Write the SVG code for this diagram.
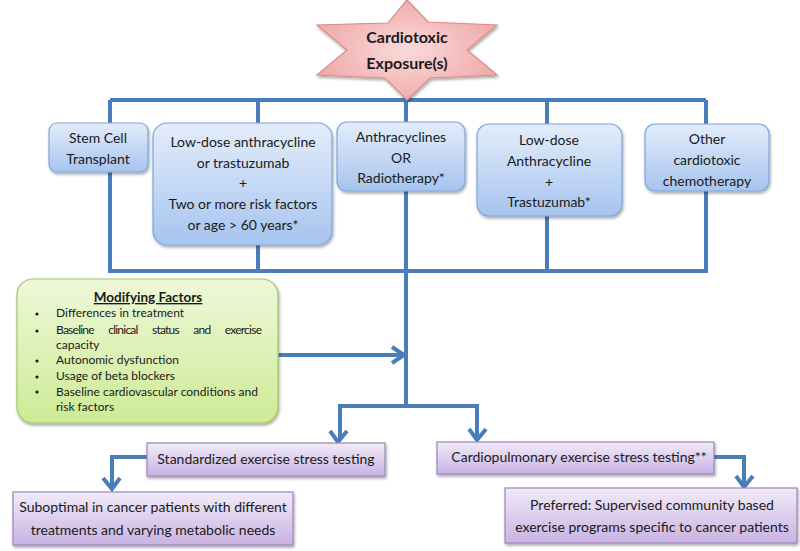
<svg xmlns="http://www.w3.org/2000/svg" width="800" height="551" viewBox="0 0 800 551">
<defs>
<linearGradient id="gBlue" x1="0" y1="0" x2="0" y2="1">
<stop offset="0" stop-color="#e3edfa"/>
<stop offset="1" stop-color="#a6c4ef"/>
</linearGradient>
<linearGradient id="gGreen" x1="0" y1="0" x2="0" y2="1">
<stop offset="0" stop-color="#eef8d8"/>
<stop offset="1" stop-color="#cdeb95"/>
</linearGradient>
<linearGradient id="gPurple" x1="0" y1="0" x2="0" y2="1">
<stop offset="0" stop-color="#f1ebf8"/>
<stop offset="1" stop-color="#c9b3e3"/>
</linearGradient>
<radialGradient id="gPink" cx="0.5" cy="0.5" r="0.6">
<stop offset="0" stop-color="#fbdada"/>
<stop offset="1" stop-color="#eea4a4"/>
</radialGradient>
<filter id="sh" x="-10%" y="-10%" width="125%" height="130%">
<feGaussianBlur in="SourceAlpha" stdDeviation="1.5"/>
<feOffset dx="1" dy="2" result="b"/>
<feComponentTransfer><feFuncA type="linear" slope="0.35"/></feComponentTransfer>
<feMerge><feMergeNode/><feMergeNode in="SourceGraphic"/></feMerge>
</filter>
</defs>
<style>
.ln{fill:none;stroke:#4a7ebb;stroke-width:4;stroke-linejoin:miter}
.ar{fill:none;stroke:#4a7ebb;stroke-width:4;stroke-linecap:butt;stroke-linejoin:miter}
.bb{fill:url(#gBlue);stroke:#7ea6dc;stroke-width:1.2;filter:url(#sh)}
.pb{fill:url(#gPurple);stroke:#9d83c0;stroke-width:1.2;filter:url(#sh)}
.gb{fill:url(#gGreen);stroke:#a6c46a;stroke-width:1.2;filter:url(#sh)}
text{font-family:Lato,"Liberation Sans",sans-serif;fill:#1a1a1a}
.t{font-size:14px;text-anchor:middle}
.s{font-size:12px}
.h{font-size:16px;font-weight:bold;text-anchor:middle}
</style>

<g id="connectors">
<path class="ln" d="M110,100 H706 M110,100 V271 H706 V100 M258,100 V123 M258,245 V271 M406,100 V122 M406,191 V406 M547,100 V124 M547,216 V271"/>
<path class="ln" d="M340,440 V406 H477 V438"/>
<path class="ar" d="M330,431 L338,442 L347,431 M469,429 L477,440 L486,429"/>
<path class="ln" d="M278,355 H404"/>
<path class="ar" d="M392,347 L404,355 L392,363"/>
<path class="ln" d="M147,457 H112 V487"/>
<path class="ar" d="M103,478 L112,489 L120,478"/>
<path class="ln" d="M714,457 H744 V485"/>
<path class="ar" d="M736,476 L744,487 L753,476"/>
</g>

<g id="star">
<polygon points="407,0 388,23 317,25 347,50 317,75 385,78 407,100 430,78 497,75 467,50 497,25 428,22" fill="url(#gPink)" stroke="#dc8c8a" stroke-width="1.2" filter="url(#sh)"/>
<text class="h" x="407" y="43">Cardiotoxic</text>
<text class="h" x="407" y="69">Exposure(s)</text>
</g>

<g id="stem">
<rect class="bb" x="49" y="123" width="99" height="49" rx="8"/>
<text class="t" x="98" y="143">Stem Cell</text>
<text class="t" x="98" y="164">Transplant</text>
</g>

<g id="lowdose">
<rect class="bb" x="153" y="123" width="179" height="122" rx="14"/>
<text class="t" x="243" y="147">Low-dose anthracycline</text>
<text class="t" x="243" y="168">or trastuzumab</text>
<text class="t" x="243" y="188">+</text>
<text class="t" x="243" y="209">Two or more risk factors</text>
<text class="t" x="243" y="230">or age &gt; 60 years*</text>
</g>

<g id="anthra">
<rect class="bb" x="337" y="122" width="128" height="69" rx="10"/>
<text class="t" x="401" y="142">Anthracyclines</text>
<text class="t" x="401" y="163">OR</text>
<text class="t" x="401" y="183">Radiotherapy*</text>
</g>

<g id="lowanth">
<rect class="bb" x="477" y="124" width="145" height="92" rx="12"/>
<text class="t" x="549" y="145">Low-dose</text>
<text class="t" x="549" y="166">Anthracycline</text>
<text class="t" x="549" y="187">+</text>
<text class="t" x="549" y="207">Trastuzumab*</text>
</g>

<g id="other">
<rect class="bb" x="645" y="124" width="124" height="67" rx="10"/>
<text class="t" x="707" y="144">Other</text>
<text class="t" x="707" y="165">cardiotoxic</text>
<text class="t" x="707" y="186">chemotherapy</text>
</g>

<g id="modifying">
<rect class="gb" x="17" y="279" width="261" height="144" rx="16"/>
<text x="148" y="302" font-size="13.5" font-weight="bold" text-anchor="middle" text-decoration="underline">Modifying Factors</text>
<g class="s">
<circle cx="37" cy="314" r="1.6" fill="#1a1a1a"/>
<circle cx="37" cy="331" r="1.6" fill="#1a1a1a"/>
<circle cx="37" cy="361" r="1.6" fill="#1a1a1a"/>
<circle cx="37" cy="377" r="1.6" fill="#1a1a1a"/>
<circle cx="37" cy="392" r="1.6" fill="#1a1a1a"/>
<text class="s" x="56" y="317">Differences in treatment</text>
<text class="s" x="56" y="334" textLength="206" lengthAdjust="spacing" word-spacing="12">Baseline clinical status and exercise</text>
<text class="s" x="56" y="349">capacity</text>
<text class="s" x="56" y="364">Autonomic dysfunction</text>
<text class="s" x="56" y="380">Usage of beta blockers</text>
<text class="s" x="56" y="396">Baseline cardiovascular conditions and</text>
<text class="s" x="56" y="411">risk factors</text>
</g>
</g>

<g id="standard">
<rect class="pb" x="147" y="443" width="238" height="33"/>
<text class="t" x="266" y="464">Standardized exercise stress testing</text>
</g>

<g id="cardiopulm">
<rect class="pb" x="437" y="442" width="277" height="32"/>
<text class="t" x="579" y="462">Cardiopulmonary exercise stress testing**</text>
</g>

<g id="suboptimal">
<rect class="pb" x="13" y="492" width="280" height="53"/>
<text class="t" x="153" y="512">Suboptimal in cancer patients with different</text>
<text class="t" x="153" y="535">treatments and varying metabolic needs</text>
</g>

<g id="preferred">
<rect class="pb" x="505" y="488" width="292" height="55"/>
<text class="t" x="652" y="510">Preferred: Supervised community based</text>
<text class="t" x="652" y="532">exercise programs specific to cancer patients</text>
</g>
</svg>
